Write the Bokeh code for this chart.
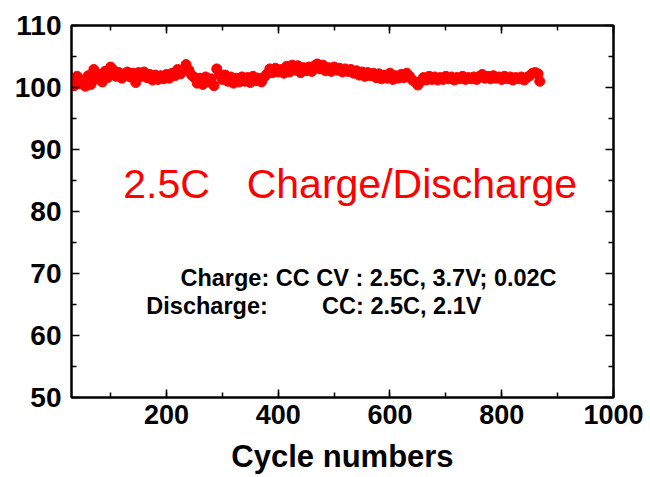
from bokeh.plotting import figure
from bokeh.models import LinearAxis, Range1d, FixedTicker, Label
from bokeh.embed import file_html
from bokeh.resources import INLINE

# ---- data ----
cycles = list(range(30, 870, 5)) + [868]
retention = [
    101.5, 100.3, 101.8, 100.6, 101.2, 100.2, 101.9, 100.5, 102.9, 101.4,
    102.1, 100.9, 102.6, 101.6, 103.3, 102.8, 101.8, 102.4, 101.5, 102.2,
    102.5, 101.7, 102.3, 100.8, 102.4, 101.8, 102.5, 101.6, 102.1, 101.2,
    102.0, 101.3, 101.9, 101.4, 102.1, 101.5, 102.3, 101.9, 102.9, 102.2,
    102.7, 103.7, 102.8, 102.0, 101.6, 100.7, 101.5, 100.5, 101.7, 100.9,
    101.4, 100.3, 103.0, 102.1, 101.3, 102.0, 101.0, 101.7, 100.7, 101.5,
    100.9, 101.7, 101.0, 101.6, 100.8, 101.8, 101.1, 101.5, 100.9, 101.7,
    102.2, 103.0, 102.4, 103.1, 102.5, 102.9, 102.3, 103.4, 102.5, 103.6,
    102.8, 103.5, 102.4, 103.2, 102.7, 103.3, 102.6, 103.5, 103.8, 103.0,
    103.6, 102.7, 103.2, 102.6, 103.3, 102.8, 103.1, 102.5, 103.0, 102.6,
    102.9, 102.3, 102.7, 102.0, 102.5, 101.8, 102.4, 101.9, 102.3, 101.6,
    102.2, 101.4, 102.0, 101.5, 102.3, 101.3, 101.9, 101.5, 102.1, 101.6,
    102.3, 101.8, 101.2, 100.9, 100.4, 101.0, 101.6, 101.2, 101.8, 101.3,
    101.7, 101.2, 101.6, 101.3, 101.8, 101.4, 101.7, 101.2, 101.6, 101.4,
    101.8, 101.3, 101.6, 101.4, 101.7, 101.3, 101.8, 102.1, 101.5, 101.8,
    101.4, 101.9, 101.5, 101.7, 101.3, 101.8, 101.4, 101.7, 101.2, 101.6,
    101.4, 101.7, 101.2, 101.6, 101.9, 102.3, 102.4, 102.2, 101.0,
]
x_major = [200, 400, 600, 800, 1000]
x_minor = [100, 200, 300, 400, 500, 600, 700, 800, 900, 1000]
y_major = [50, 60, 70, 80, 90, 100, 110]
y_minor = [55, 65, 75, 85, 95, 105]

FONT = "Liberation Sans"

p = figure(width=650, height=477, x_range=Range1d(30, 1000), y_range=Range1d(50, 110),
           output_backend="svg", toolbar_location=None,
           min_border_left=71, min_border_right=37, min_border_top=25, min_border_bottom=80)
p.grid.visible = False
p.outline_line_color = "black"
p.outline_line_width = 2
p.background_fill_color = "white"
p.border_fill_color = "white"


def style(ax, ticks, minor, size="27px", labels=True):
    ax.ticker = FixedTicker(ticks=ticks, minor_ticks=minor)
    ax.axis_line_color = "black"
    ax.axis_line_width = 2
    ax.major_tick_in = 8
    ax.major_tick_out = 0
    ax.minor_tick_in = 5
    ax.minor_tick_out = 0
    ax.major_tick_line_width = 1.5
    ax.minor_tick_line_width = 1.5
    ax.major_tick_line_color = "black"
    ax.minor_tick_line_color = "black"
    if labels:
        ax.major_label_text_font = FONT
        ax.major_label_text_font_style = "bold"
        ax.major_label_text_font_size = size
        ax.major_label_text_color = "black"
    else:
        ax.major_label_text_font_size = "0px"
        ax.major_label_overrides = {t: "" for t in ticks}


style(p.xaxis[0], x_major, x_minor, size="27px")
style(p.yaxis[0], y_major, y_minor, size="28px")
p.xaxis[0].major_label_standoff = 7
p.yaxis[0].major_label_standoff = 10
p.xaxis[0].axis_label = "Cycle numbers"
p.xaxis[0].axis_label_text_font = FONT
p.xaxis[0].axis_label_text_font_style = "bold"
p.xaxis[0].axis_label_text_font_size = "31px"
p.xaxis[0].axis_label_text_color = "black"
p.xaxis[0].axis_label_standoff = 12

top = LinearAxis()
style(top, x_major, x_minor, labels=False)
p.add_layout(top, "above")
right = LinearAxis()
style(right, y_major, y_minor, labels=False)
p.add_layout(right, "right")

p.scatter(cycles, retention, size=10, color="#FF0000", line_color="#FF0000")

p.add_layout(Label(x=122.5, y=84.5, text="2.5C", text_font=FONT, text_font_size="41px",
                   text_color="#FF0000", text_baseline="alphabetic"))
p.add_layout(Label(x=343.5, y=84.5, text="Charge/Discharge", text_font=FONT, text_font_size="41px",
                   text_color="#FF0000", text_baseline="alphabetic"))
p.add_layout(Label(x=225, y=69.2, text="Charge: CC CV : 2.5C, 3.7V; 0.02C", text_font=FONT,
                   text_font_size="23.5px", text_font_style="bold", text_color="black",
                   text_baseline="alphabetic"))
p.add_layout(Label(x=164, y=64.8, text="Discharge:", text_font=FONT,
                   text_font_size="23.5px", text_font_style="bold", text_color="black",
                   text_baseline="alphabetic"))
p.add_layout(Label(x=478.5, y=64.8, text="CC: 2.5C, 2.1V", text_font=FONT,
                   text_font_size="23.5px", text_font_style="bold", text_color="black",
                   text_baseline="alphabetic"))

open("out.html", "w").write(file_html(p, INLINE))
